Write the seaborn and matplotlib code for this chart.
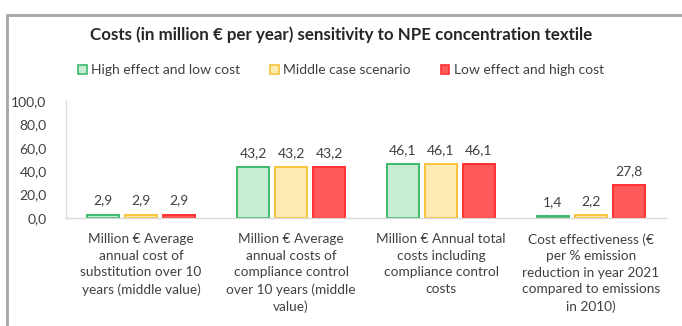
import matplotlib
matplotlib.use("Agg")
import matplotlib.pyplot as plt
import seaborn as sns
import pandas as pd
from matplotlib.patches import Rectangle

categories = [
    "Million € Average\nannual cost of\nsubstitution over 10\nyears (middle value)",
    "Million € Average\nannual costs of\ncompliance control\nover 10 years (middle\nvalue)",
    "Million € Annual total\ncosts including\ncompliance control\ncosts",
    "Cost effectiveness (€\nper % emission\nreduction in year 2021\ncompared to emissions\nin 2010)",
]
series = ["High effect and low cost", "Middle case scenario", "Low effect and high cost"]
high_effect = [2.9, 43.2, 46.1, 1.4]
middle_case = [2.9, 43.2, 46.1, 2.2]
low_effect = [2.9, 43.2, 46.1, 27.8]
yticks = [0, 20, 40, 60, 80, 100]

fills = ["#c8ecd3", "#ffeab4", "#ff5a5a"]
edges = ["#3dba6b", "#f7c43c", "#ff3030"]

rows = []
for s, vals in zip(series, [high_effect, middle_case, low_effect]):
    for c, v in zip(categories, vals):
        rows.append({"cat": c, "series": s, "value": v})
df = pd.DataFrame(rows)

sns.set_theme(style="white")
plt.rcParams["font.family"] = ["Lato", "DejaVu Sans"]

fig = plt.figure(figsize=(6.82, 3.26), dpi=100)
ax = fig.add_axes([66/682, 1-218/326, 600/682, 117/326])

sns.barplot(data=df, x="cat", y="value", hue="series", order=categories,
            hue_order=series, palette=fills, saturation=1, width=0.76, gap=0.18,
            ax=ax, legend=False, errorbar=None)

for i, cont in enumerate(ax.containers):
    for bar in cont:
        bar.set_edgecolor(edges[i])
        bar.set_linewidth(1.4)
    ax.bar_label(cont, labels=[f"{v:.1f}".replace(".", ",") for v in cont.datavalues],
                 padding=6, fontsize=10, color="#404040")

ax.set_xlim(-0.5, 3.5)
ax.set_ylim(0, 100)
ax.set_yticks(yticks)
ax.set_yticklabels([f"{t:.1f}".replace(".", ",") for t in yticks], fontsize=10, color="#404040")
ax.set_xticks(range(len(categories)))
ax.set_xticklabels(categories, fontsize=9.8, color="#404040", linespacing=1.45, va="top")
ax.tick_params(axis="x", length=0, pad=11)
ax.tick_params(axis="y", length=0, pad=14)
ax.set_xlabel("")
ax.set_ylabel("")
for side in ["top", "right"]:
    ax.spines[side].set_visible(False)
ax.spines["left"].set_color("#d9d9d9")
ax.spines["bottom"].set_color("#d9d9d9")
ax.spines["left"].set_linewidth(1)
ax.spines["bottom"].set_linewidth(1)

# legend
handles = [Rectangle((0, 0), 1, 1, facecolor=f, edgecolor=e, linewidth=1.2) for f, e in zip(fills, edges)]
fig.legend(handles, series, loc="center", bbox_to_anchor=(0.5, 1-70/326), ncol=3,
           frameon=False, fontsize=10, handlelength=0.6, handleheight=0.6,
           handletextpad=0.3, columnspacing=2.2, labelcolor="#404040")

fig.text(0.5, 1-35/326, "Costs (in million € per year) sensitivity to NPE concentration textile",
         ha="center", va="center", fontsize=12.2, fontweight="bold", color="#262626")

# chart frame
fig.patches.append(Rectangle((7/682, -0.05), 1.0, 1-15/326+0.05, transform=fig.transFigure,
                             fill=False, edgecolor="#a6a6a6", linewidth=2))

fig.savefig("out.png", dpi=100)
